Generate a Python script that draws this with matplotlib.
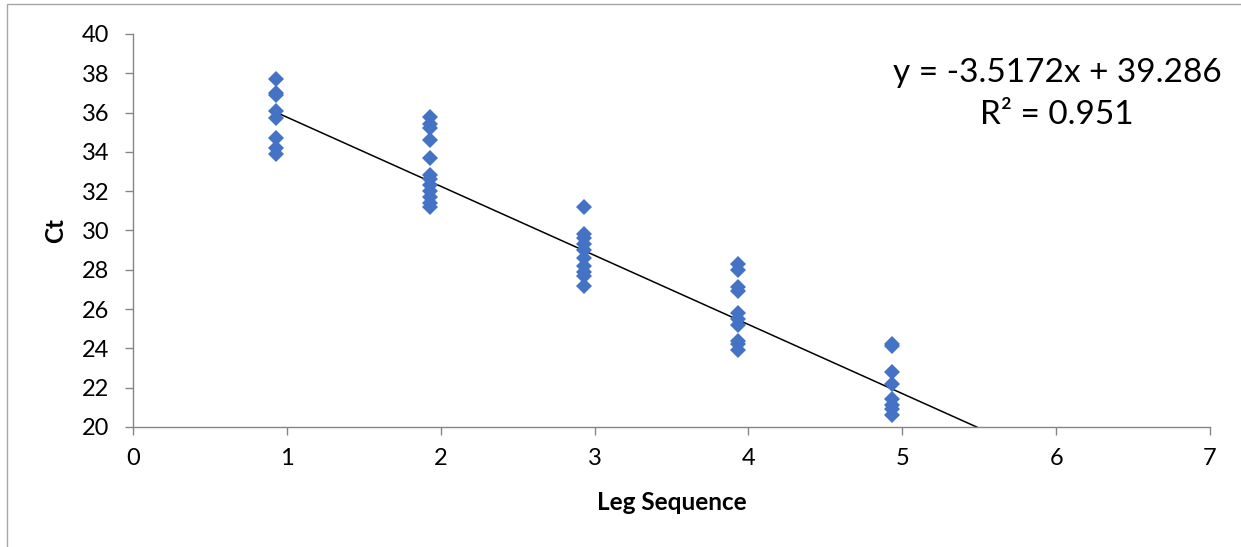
import matplotlib
matplotlib.use("Agg")
import matplotlib.pyplot as plt
from matplotlib.patches import Rectangle
import numpy as np

# leg sequence groups (x position of each cluster) and Ct readings per group
LEG_X = [0.93, 1.93, 2.93, 3.93, 4.93]
CT_VALUES = [
    [37.7, 37.0, 36.9, 36.1, 35.7, 34.7, 34.2, 33.9],
    [35.8, 35.4, 35.2, 34.6, 33.7, 32.8, 32.6, 32.3, 32.0, 31.7, 31.4, 31.2],
    [31.2, 29.8, 29.6, 29.3, 29.0, 28.6, 28.2, 27.9, 27.7, 27.2],
    [28.3, 28.0, 27.1, 26.9, 25.8, 25.5, 25.2, 24.4, 24.2, 23.9],
    [24.2, 24.1, 22.8, 22.2, 21.4, 21.1, 20.9, 20.6],
]
SLOPE = -3.5172
INTERCEPT = 39.286
R2 = 0.951

plt.rcParams["font.family"] = ["Lato", "DejaVu Sans"]

W, H = 1241, 547
fig = plt.figure(figsize=(W / 100, H / 100), dpi=100)
fig.patches.append(Rectangle((7 / W, -0.2), 1.2, 1.2 - 4 / H, transform=fig.transFigure,
                             fill=False, edgecolor="#a6a6a6", lw=1.0))

ax = fig.add_axes([133 / W, 1 - 427 / H, (1210 - 133) / W, (427 - 34) / H])

xs = np.concatenate([[x] * len(v) for x, v in zip(LEG_X, CT_VALUES)])
ys = np.concatenate(CT_VALUES)
ax.plot(xs, ys, "D", color="#4472c4", ms=8.6, mew=0, zorder=3)

x_line = np.array([min(LEG_X), 7.0])
ax.plot(x_line, SLOPE * x_line + INTERCEPT, color="black", lw=1.1, zorder=2)

ax.set_xlim(0, 7)
ax.set_ylim(20, 40)
ax.set_xticks(range(0, 8))
ax.set_yticks(range(20, 41, 2))

for side in ("top", "right"):
    ax.spines[side].set_visible(False)
for side in ("left", "bottom"):
    ax.spines[side].set_color("#868686")
    ax.spines[side].set_linewidth(1.0)
ax.tick_params(axis="both", direction="out", length=6, width=1.0, color="#868686",
               labelsize=17, labelcolor="black")
ax.tick_params(axis="x", pad=9)
ax.tick_params(axis="y", pad=11)

ax.set_xlabel("Leg Sequence", fontsize=17.5, fontweight="bold")
ax.set_ylabel("Ct", fontsize=17.5, fontweight="bold")
ax.xaxis.set_label_coords(0.5, -0.191)
ax.yaxis.set_label_coords(-0.072, 0.5)
ax.xaxis.label.set_va("center")
ax.yaxis.label.set_va("center")

fig.text(1057 / W, 1 - 73 / H, f"y = {SLOPE:.4f}x + {INTERCEPT:.3f}",
         ha="center", va="center", fontsize=24)
fig.text(1057 / W, 1 - 115 / H, f"R² = {R2:.3f}", ha="center", va="center", fontsize=24)

fig.savefig("out.png", dpi=100)
